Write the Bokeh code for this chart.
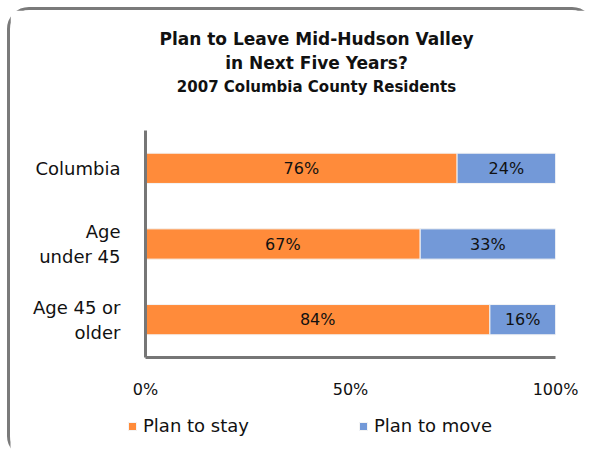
from bokeh.plotting import figure
from bokeh.layouts import column
from bokeh.models import (Range1d, Label, LabelSet, Legend, LegendItem,
                          FixedTicker, ColumnDataSource)
from bokeh.core.properties import value
from bokeh.embed import file_html
from bokeh.resources import INLINE

# ---- data ----
categories = ["Columbia", "Age under 45", "Age 45 or older"]
category_labels = ["Columbia", "Age\nunder 45", "Age 45 or\nolder"]
plan_to_stay = [76, 67, 84]
plan_to_move = [24, 33, 16]
series_names = ["Plan to stay", "Plan to move"]
x_ticks = [0, 50, 100]
x_tick_labels = ["0%", "50%", "100%"]
title_lines = ["Plan to Leave Mid-Hudson Valley", "in Next Five Years?",
               "2007 Columbia County Residents"]

# ---- style / layout constants (page pixels) ----
colors = ["#FF8B3A", "#7399D8"]
FONT = "DejaVu Sans"
AXIS_COLOR = "#767676"
TEXT_COLOR = "#111111"
ORIGIN = 10                  # page position of the canvas' top-left corner
FRAME_L, FRAME_R = 145, 555
AXIS_TOP, FRAME_B = 130, 357
FRAME_T = ORIGIN             # frame reaches the top of the canvas
CHART_B = 410                # bottom of the chart canvas / top of legend strip
TOTAL_W, TOTAL_H = 581, 445

n = len(categories)
ypos = list(range(n))[::-1]          # first category at the top
unit = (FRAME_B - AXIS_TOP) / n       # pixels per category band
y_start = -0.5
y_end = y_start + (FRAME_B - FRAME_T) / unit


def py_to_y(py):
    return y_start + (FRAME_B - py) / unit


def px_to_x(px):
    return (px - FRAME_L) / (FRAME_R - FRAME_L) * 100


p = figure(frame_width=FRAME_R - FRAME_L, frame_height=FRAME_B - FRAME_T,
           x_range=Range1d(0, 100), y_range=Range1d(y_start, y_end),
           output_backend="svg", toolbar_location=None,
           min_border_left=FRAME_L - ORIGIN,
           min_border_right=TOTAL_W - (FRAME_R - ORIGIN),
           min_border_top=0, min_border_bottom=CHART_B - FRAME_B)
p.frame_align = False
p.outline_line_color = None
p.xgrid.visible = False
p.ygrid.visible = False

src = ColumnDataSource(dict(y=ypos, stay=plan_to_stay, move=plan_to_move))
rs = p.hbar_stack(["stay", "move"], y="y", height=0.4, color=colors,
                  line_color="#f4f4f4", line_width=1, source=src)

# value labels inside the bars
lab_x = [s / 2 for s in plan_to_stay] + [s + m / 2 for s, m in zip(plan_to_stay, plan_to_move)]
lab_y = ypos + ypos
lab_t = [f"{v}%" for v in plan_to_stay] + [f"{v}%" for v in plan_to_move]
lsrc = ColumnDataSource(dict(x=lab_x, y=lab_y, t=lab_t))
p.add_layout(LabelSet(x="x", y="y", text="t", source=lsrc, text_align="center",
                      text_baseline="middle", text_font=value(FONT),
                      text_font_size=value("16px"), text_color=TEXT_COLOR))

# axes
p.xaxis.ticker = FixedTicker(ticks=x_ticks)
p.xaxis.major_label_overrides = {t: l for t, l in zip(x_ticks, x_tick_labels)}
p.xaxis.major_label_text_font_size = "16px"
p.xaxis.major_label_standoff = 22
p.yaxis.ticker = FixedTicker(ticks=ypos)
p.yaxis.major_label_overrides = {y: l for y, l in zip(ypos, category_labels)}
p.yaxis.major_label_text_font_size = "18px"
p.yaxis.major_label_standoff = 25
p.yaxis.bounds = (y_start, y_start + n)
for ax in (p.xaxis, p.yaxis):
    ax.axis_line_color = AXIS_COLOR
    ax.axis_line_width = 3
    ax.major_tick_line_color = None
    ax.minor_tick_line_color = None
    ax.major_tick_out = 0
    ax.major_tick_in = 0
    ax.major_label_text_font = FONT
    ax.major_label_text_color = TEXT_COLOR

# titles inside the (extended) frame
title_specs = [(title_lines[0], "17px", 38), (title_lines[1], "17px", 62),
               (title_lines[2], "15px", 86)]
for txt, size, py in title_specs:
    p.add_layout(Label(x=px_to_x(316), y=py_to_y(py), text=txt,
                       text_align="center", text_baseline="middle", text_font=FONT,
                       text_font_size=size, text_font_style="bold", text_color=TEXT_COLOR))

# ---- legend strip (second figure; hidden proxies carry the series colours) ----
LEG_H = TOTAL_H - (CHART_B - ORIGIN)
pl = figure(width=TOTAL_W, height=LEG_H, x_range=Range1d(0, 100), y_range=Range1d(0, 1),
            output_backend="svg", toolbar_location=None,
            x_axis_type=None, y_axis_type=None,
            min_border_left=0, min_border_right=0, min_border_top=0, min_border_bottom=0)
pl.frame_align = False
pl.outline_line_color = None
pl.xgrid.visible = False
pl.ygrid.visible = False
proxies = pl.hbar_stack(["stay", "move"], y="y", height=0.4, color=colors,
                        line_color="#f4f4f4", line_width=1, source=src)
for r in proxies:
    r.visible = False
LEG_CENTER_Y = 425
legend = Legend(items=[LegendItem(label=series_names[i], renderers=[proxies[i]]) for i in range(2)],
                orientation="horizontal",
                location=(127 - ORIGIN, (CHART_B + LEG_H) - LEG_CENTER_Y - 11),
                glyph_width=10, glyph_height=10, label_standoff=6,
                spacing=109, padding=0, margin=0, border_line_color=None,
                background_fill_alpha=0, inactive_fill_alpha=0,
                label_text_font=FONT, label_text_font_size="18px",
                label_text_color=TEXT_COLOR)
pl.add_layout(legend)

layout = column(p, pl, spacing=0,
                styles={"border": "3px solid #7a7a7a", "border-radius": "22px",
                        "margin": "7px 0 0 7px"})

open("out.html", "w").write(file_html(layout, INLINE))
